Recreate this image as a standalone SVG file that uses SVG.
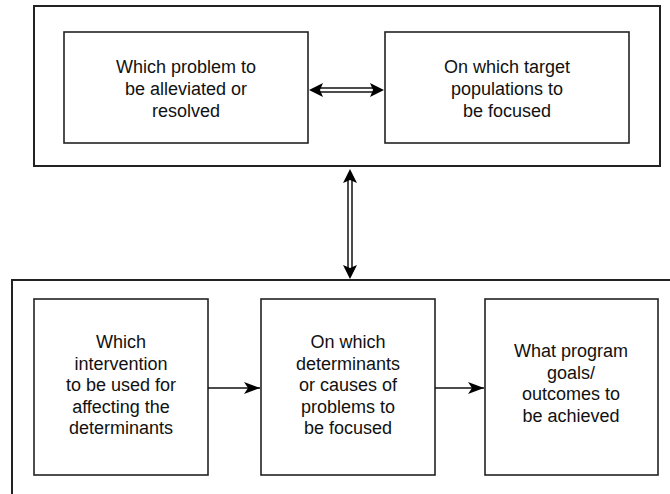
<svg xmlns="http://www.w3.org/2000/svg" width="670" height="494" viewBox="0 0 670 494">
<defs>
<style>
.outer{fill:none;stroke:#222;stroke-width:2}
.box{fill:#fff;stroke:#222;stroke-width:1.6}
.t{font-family:"Liberation Sans",Arial,sans-serif;font-size:18px;fill:#111;text-anchor:middle}
.ln{stroke:#111;stroke-width:1.5;fill:none}
.head{fill:#000}
</style>
<marker id="arr" viewBox="0 0 16 12" markerWidth="16" markerHeight="12" refX="16" refY="6" orient="auto" markerUnits="userSpaceOnUse">
<path d="M0,0 L16,6 L0,12 L4,6 z" fill="#000"/>
</marker>
</defs>
<rect width="670" height="494" fill="#fff"/>
<g id="top-group">
<rect class="outer" x="34" y="6" width="626" height="160"/>
</g>
<g id="bottom-group">
<rect class="outer" x="12" y="280" width="700" height="260"/>
</g>
<g id="problem">
<rect class="box" x="64" y="32" width="244" height="111"/>
<text class="t" x="186" y="73">Which problem to</text>
<text class="t" x="186" y="95">be alleviated or</text>
<text class="t" x="186" y="117">resolved</text>
</g>
<g id="target">
<rect class="box" x="385" y="32" width="244" height="111"/>
<text class="t" x="507" y="73">On which target</text>
<text class="t" x="507" y="95">populations to</text>
<text class="t" x="507" y="117">be focused</text>
</g>
<g id="intervention">
<rect class="box" x="34" y="299" width="174" height="176"/>
<text class="t" x="121" y="348">Which</text>
<text class="t" x="121" y="370">intervention</text>
<text class="t" x="121" y="391">to be used for</text>
<text class="t" x="121" y="413">affecting the</text>
<text class="t" x="121" y="434">determinants</text>
</g>
<g id="determinants">
<rect class="box" x="261" y="299" width="174" height="176"/>
<text class="t" x="348" y="348">On which</text>
<text class="t" x="348" y="370">determinants</text>
<text class="t" x="348" y="391">or causes of</text>
<text class="t" x="348" y="413">problems to</text>
<text class="t" x="348" y="434">be focused</text>
</g>
<g id="goals">
<rect class="box" x="485" y="299" width="173" height="176"/>
<text class="t" x="571" y="357">What program</text>
<text class="t" x="571" y="379">goals/</text>
<text class="t" x="571" y="400">outcomes to</text>
<text class="t" x="571" y="422">be achieved</text>
</g>
<g id="connectors">
<line class="ln" x1="208" y1="388" x2="260" y2="388" marker-end="url(#arr)"/>
<line class="ln" x1="435" y1="388" x2="484" y2="388" marker-end="url(#arr)"/>
<line class="ln" x1="319" y1="88" x2="374" y2="88"/>
<line class="ln" x1="319" y1="92" x2="374" y2="92"/>
<path class="head" d="M309,90 L323,83 L320,90 L323,97 z"/>
<path class="head" d="M384,90 L370,83 L373,90 L370,97 z"/>
<line class="ln" x1="348" y1="180" x2="348" y2="268"/>
<line class="ln" x1="352" y1="180" x2="352" y2="268"/>
<path class="head" d="M350,169 L343,183 L350,180 L357,183 z"/>
<path class="head" d="M350,279 L343,265 L350,268 L357,265 z"/>
</g>
</svg>
